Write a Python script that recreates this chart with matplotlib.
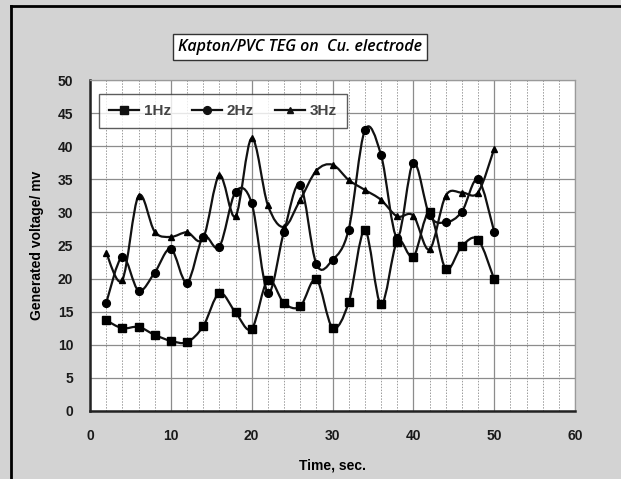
import numpy as np
import matplotlib
matplotlib.use("Agg")
import matplotlib.pyplot as plt
from matplotlib.path import Path
from matplotlib.patches import PathPatch
from matplotlib.lines import Line2D

# =====================================================================
# DATA
# =====================================================================

time_sec = [2, 4, 6, 8, 10, 12, 14, 16, 18, 20, 22, 24, 26,
            28, 30, 32, 34, 36, 38, 40, 42, 44, 46, 48, 50]

volt_1hz = [13.7, 12.5, 12.7, 11.5, 10.6, 10.4, 12.8, 17.8, 14.9, 12.4,
            19.8, 16.3, 15.8, 19.9, 12.6, 16.4, 27.3, 16.1, 25.6, 23.3,
            30.0, 21.5, 24.9, 25.9, 19.9]

volt_2hz = [16.3, 23.3, 18.2, 20.9, 24.5, 19.4, 26.3, 24.8, 33.1, 31.4,
            17.9, 27.1, 34.2, 22.2, 22.8, 27.4, 42.4, 38.7, 26.2, 37.5,
            29.6, 28.5, 30.1, 35.0, 27.1]

volt_3hz = [23.9, 19.8, 32.5, 27.1, 26.3, 27.0, 26.1, 35.6, 29.4, 41.2,
            31.1, 27.8, 31.9, 36.3, 37.2, 34.9, 33.4, 31.9, 29.4, 29.5,
            24.4, 32.5, 33.0, 33.0, 39.6]

series_labels = ["1Hz", "2Hz", "3Hz"]
series_markers = ["s", "o", "^"]
series_sizes = [5.3, 5.6, 4.8]

x_ticks = [0, 10, 20, 30, 40, 50, 60]
y_ticks = [0, 5, 10, 15, 20, 25, 30, 35, 40, 45, 50]

BG = "#d3d3d3"
plt.rcParams["font.family"] = ["Liberation Sans", "DejaVu Sans"]


# =====================================================================
# SMOOTH LINE (excel-like bezier through the points)
# =====================================================================

def smooth_path(xs, ys):
    pts = np.column_stack([xs, ys]).astype(float)
    n = len(pts)
    verts = [pts[0]]
    codes = [Path.MOVETO]
    for i in range(n - 1):
        p0 = pts[i - 1] if i > 0 else pts[i]
        p1 = pts[i]
        p2 = pts[i + 1]
        p3 = pts[i + 2] if i + 2 < n else pts[i + 1]
        c1 = p1 + (p2 - p0) / 6.0
        c2 = p2 - (p3 - p1) / 6.0
        verts += [c1, c2, p2]
        codes += [Path.CURVE4] * 3
    return Path(verts, codes)


# =====================================================================
# FIGURE
# =====================================================================

fig = plt.figure(figsize=(6.21, 4.79), dpi=100)
fig.patch.set_facecolor(BG)

# outer frame of the chart area
fig.add_artist(Line2D([11 / 621, 11 / 621], [0, 1 - 6 / 479],
                      color="black", lw=2.0, transform=fig.transFigure))
fig.add_artist(Line2D([11 / 621, 1], [1 - 6 / 479, 1 - 6 / 479],
                      color="black", lw=2.0, transform=fig.transFigure))

ax = fig.add_axes([90 / 621, 1 - 411 / 479, 485 / 621, 331 / 479])
ax.set_facecolor("white")

ax.set_xlim(0, 60)
ax.set_ylim(0, 50)
ax.set_xticks(x_ticks)
ax.set_yticks(y_ticks)
ax.set_xticks(np.arange(0, 61, 2), minor=True)

ax.grid(True, which="major", axis="both", color="#8c8c8c", lw=0.9)
ax.grid(True, which="minor", axis="x", color="#9a9a9a", lw=0.7,
        linestyle=(0, (1.5, 1.5)))
ax.set_axisbelow(True)

for side in ["top", "right"]:
    ax.spines[side].set_color("#9a9a9a")
    ax.spines[side].set_linewidth(0.9)
for side in ["left", "bottom"]:
    ax.spines[side].set_color("#222222")
    ax.spines[side].set_linewidth(1.8)

ax.tick_params(which="both", length=0)
ax.tick_params(axis="x", pad=13)
ax.tick_params(axis="y", pad=12)
for lbl in ax.get_xticklabels() + ax.get_yticklabels():
    lbl.set_fontweight("bold")
    lbl.set_fontsize(10)
    lbl.set_color("#1a1a1a")

ax.set_xlabel("Time, sec.", fontsize=10, fontweight="bold", labelpad=11)
ax.set_ylabel("Generated voltage/ mv", fontsize=10, fontweight="bold",
              labelpad=10)

# =====================================================================
# SERIES
# =====================================================================

handles = []
for ys, lab, mk, ms in zip([volt_1hz, volt_2hz, volt_3hz], series_labels,
                           series_markers, series_sizes):
    patch = PathPatch(smooth_path(time_sec, ys), facecolor="none",
                      edgecolor="#111111", lw=1.6, zorder=3)
    ax.add_patch(patch)
    ax.plot(time_sec, ys, linestyle="none", marker=mk, markersize=ms,
            color="black", zorder=4)
    handles.append(Line2D([], [], color="#111111", lw=1.6, marker=mk,
                          markersize=ms, label=lab))

leg = ax.legend(handles=handles, ncol=3, loc="upper left",
                bbox_to_anchor=(99 / 621, 1 - 94 / 479),
                bbox_transform=fig.transFigure,
                frameon=True, fancybox=False, handlelength=2.0,
                handletextpad=0.3, columnspacing=1.35, borderpad=0.65,
                borderaxespad=0,
                prop={"weight": "bold", "size": 11})
leg.get_frame().set_edgecolor("#333333")
leg.get_frame().set_linewidth(1.0)
for t in leg.get_texts():
    t.set_color("#444444")

# =====================================================================
# TITLE BOX
# =====================================================================

fig.text(300 / 621, 1 - 47 / 479, "Kapton/PVC TEG on  Cu. electrode",
         ha="center", va="center", fontsize=11.5, fontstyle="italic",
         fontweight="semibold", family=["Open Sans", "DejaVu Sans"],
         bbox=dict(boxstyle="square,pad=0.3", facecolor="white",
                   edgecolor="#333333", lw=1.0))

plt.savefig("out.png", dpi=100, facecolor=BG)
plt.close()
